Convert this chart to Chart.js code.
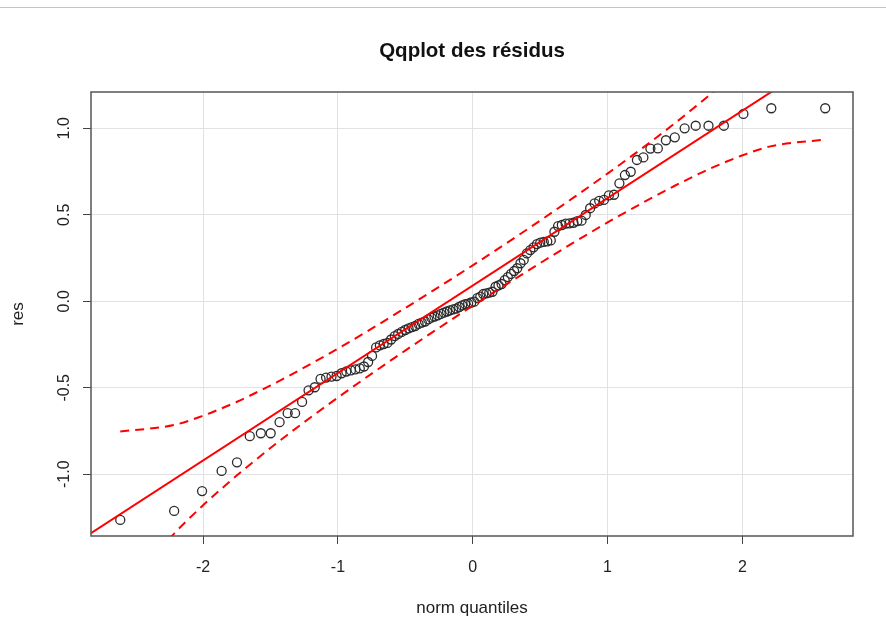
<!DOCTYPE html>
<html>
<head>
<meta charset="utf-8">
<script src="https://cdn.jsdelivr.net/npm/chart.js@4.4.0/dist/chart.umd.min.js"></script>
<style>
  html, body { margin: 0; padding: 0; background: #fff; }
  #wrap { position: relative; width: 886px; height: 639px; }
  .top-rule { position: absolute; left: 0; top: 7px; width: 886px; height: 1px; background: #c4c4c4; }
</style>
</head>
<body>
<div id="wrap">
  <canvas id="qq" width="886" height="639"></canvas>
  <div class="top-rule"></div>
</div>
<script>
// theoretical normal quantiles, one per residual (n = 112)
const normQuantiles = [
  -2.615, -2.215, -2.008, -1.863, -1.749, -1.654, -1.572, -1.499, -1.433, -1.373,
  -1.318, -1.266, -1.218, -1.172, -1.129, -1.088, -1.048, -1.010, -0.973, -0.938,
  -0.904, -0.871, -0.838, -0.807, -0.776, -0.747, -0.717, -0.689, -0.661, -0.633,
  -0.606, -0.579, -0.553, -0.527, -0.501, -0.476, -0.451, -0.427, -0.402, -0.378,
  -0.354, -0.330, -0.307, -0.284, -0.260, -0.237, -0.214, -0.191, -0.169, -0.146,
  -0.123, -0.101, -0.078, -0.056, -0.034, -0.011,
  0.011, 0.034, 0.056, 0.078, 0.101, 0.123,
  0.146, 0.169, 0.191, 0.214, 0.237, 0.260, 0.284, 0.307, 0.330, 0.354,
  0.378, 0.402, 0.427, 0.451, 0.476, 0.501, 0.527, 0.553, 0.579, 0.606,
  0.633, 0.661, 0.689, 0.717, 0.747, 0.776, 0.807, 0.838, 0.871, 0.904,
  0.938, 0.973, 1.010, 1.048, 1.088, 1.129, 1.172, 1.218, 1.266, 1.318,
  1.373, 1.433, 1.499, 1.572, 1.654, 1.749, 1.863, 2.008, 2.215, 2.615
];

// sorted residuals
const residuals = [
  -1.264, -1.212, -1.097, -0.981, -0.931, -0.780, -0.763, -0.763, -0.699, -0.647,
  -0.647, -0.582, -0.515, -0.497, -0.449, -0.441, -0.436, -0.432, -0.416, -0.406,
  -0.400, -0.394, -0.388, -0.377, -0.351, -0.316, -0.267, -0.255, -0.247, -0.241,
  -0.221, -0.201, -0.189, -0.177, -0.166, -0.157, -0.149, -0.143, -0.131, -0.123,
  -0.117, -0.105, -0.095, -0.088, -0.082, -0.073, -0.066, -0.059, -0.053, -0.047,
  -0.042, -0.033, -0.024, -0.017, -0.013, -0.007, -0.002, 0.018, 0.027, 0.042,
  0.046, 0.050, 0.055, 0.084, 0.092, 0.100, 0.122, 0.140, 0.158, 0.175,
  0.191, 0.220, 0.239, 0.277, 0.296, 0.312, 0.331, 0.339, 0.343, 0.346,
  0.352, 0.402, 0.435, 0.441, 0.449, 0.451, 0.454, 0.464, 0.466, 0.499,
  0.538, 0.566, 0.581, 0.586, 0.612, 0.616, 0.682, 0.730, 0.749, 0.817,
  0.832, 0.883, 0.884, 0.931, 0.948, 1.000, 1.015, 1.015, 1.015, 1.083,
  1.116, 1.116
];

// reference line through the quartiles
const fitX = [-2.832, 2.821];
const fitY = [-1.341, 1.517];

// pointwise confidence envelope
const envX = [
  -2.615, -2.215, -2.008, -1.863, -1.749, -1.654, -1.499, -1.373, -1.266, -1.010,
  -0.747, -0.501, -0.237, 0.000, 0.237, 0.501, 0.747, 1.010, 1.266, 1.373,
  1.499, 1.654, 1.749, 1.863, 2.008, 2.215, 2.615
];
const envUpper = [
  -0.753, -0.715, -0.664, -0.619, -0.581, -0.546, -0.486, -0.435, -0.390, -0.278,
  -0.157, -0.039, 0.090, 0.208, 0.329, 0.467, 0.599, 0.744, 0.890, 0.953,
  1.029, 1.127, 1.188, 1.265, 1.367, 1.525, 1.891
];
const envLower = [
  -1.709, -1.343, -1.185, -1.083, -1.006, -0.945, -0.847, -0.771, -0.708, -0.562,
  -0.417, -0.285, -0.147, -0.026, 0.092, 0.221, 0.339, 0.460, 0.572, 0.617,
  0.668, 0.728, 0.763, 0.801, 0.846, 0.897, 0.935
];

const xTicks = [-2, -1, 0, 1, 2];
const yTicks = [-1.0, -0.5, 0.0, 0.5, 1.0];
const yTickLabels = ['-1.0', '-0.5', '0.0', '0.5', '1.0'];

const FONT = '"Liberation Sans", Arial, Helvetica, sans-serif';
const zip = (xs, ys) => xs.map((x, i) => ({ x: x, y: ys[i] }));

// box around the plot region + rotated y tick labels (base R style)
const rFrame = {
  id: 'rFrame',
  afterDraw(chart) {
    const { ctx, chartArea: a, scales: { y } } = chart;
    ctx.save();
    ctx.strokeStyle = '#555';
    ctx.lineWidth = 1.5;
    ctx.strokeRect(a.left, a.top, a.right - a.left, a.bottom - a.top);

    ctx.fillStyle = '#222';
    ctx.font = '16px ' + FONT;
    ctx.textAlign = 'center';
    ctx.textBaseline = 'middle';
    yTicks.forEach((v, i) => {
      ctx.save();
      ctx.translate(a.left - 26, y.getPixelForValue(v));
      ctx.rotate(-Math.PI / 2);
      ctx.fillText(yTickLabels[i], 0, 0);
      ctx.restore();
    });
    ctx.restore();
  }
};

const redLine = {
  showLine: true,
  pointRadius: 0,
  pointHoverRadius: 0,
  borderColor: '#ff0000',
  borderWidth: 2,
  fill: false
};

new Chart(document.getElementById('qq'), {
  type: 'scatter',
  data: {
    datasets: [
      Object.assign({ label: 'fit', data: zip(fitX, fitY) }, redLine),
      Object.assign({ label: 'upper', data: zip(envX, envUpper), borderDash: [9, 6], cubicInterpolationMode: 'monotone' }, redLine),
      Object.assign({ label: 'lower', data: zip(envX, envLower), borderDash: [9, 6], cubicInterpolationMode: 'monotone' }, redLine),
      {
        label: 'res',
        data: zip(normQuantiles, residuals),
        pointStyle: 'circle',
        pointRadius: 4.5,
        pointBorderWidth: 1.3,
        pointBorderColor: '#2b2b2b',
        pointBackgroundColor: 'rgba(0,0,0,0)'
      }
    ]
  },
  options: {
    responsive: false,
    animation: false,
    layout: { padding: { left: 0, right: 33, top: 0, bottom: 0 } },
    plugins: {
      legend: { display: false },
      tooltip: { enabled: false },
      title: {
        display: true,
        text: 'Qqplot des résidus',
        fullSize: false,
        color: '#111',
        font: { family: FONT, size: 20.5, weight: 'bold', lineHeight: 1.2 },
        padding: { top: 39, bottom: 28.4 }
      }
    },
    scales: {
      x: {
        type: 'linear',
        position: 'bottom',
        min: -2.832,
        max: 2.821,
        afterBuildTicks: s => { s.ticks = xTicks.map(v => ({ value: v })); },
        afterFit: s => { s.height = 103; },
        ticks: {
          color: '#222',
          font: { family: FONT, size: 16 },
          padding: 14,
          maxRotation: 0,
          callback: v => String(v)
        },
        grid: { color: '#e2e2e2', lineWidth: 1, tickColor: '#444', tickLength: 8, drawTicks: true },
        border: { display: false },
        title: {
          display: true,
          text: 'norm quantiles',
          color: '#222',
          font: { family: FONT, size: 17 },
          padding: { top: 0, bottom: 20 }
        }
      },
      y: {
        type: 'linear',
        position: 'left',
        min: -1.357,
        max: 1.21,
        afterBuildTicks: s => { s.ticks = yTicks.map(v => ({ value: v })); },
        afterFit: s => { s.width = 91; },
        ticks: { display: false },
        grid: { color: '#e2e2e2', lineWidth: 1, tickColor: '#444', tickLength: 8, drawTicks: true },
        border: { display: false },
        title: {
          display: true,
          text: 'res',
          color: '#222',
          font: { family: FONT, size: 17 },
          padding: { top: 8, bottom: 0 }
        }
      }
    }
  },
  plugins: [rFrame]
});
</script>
</body>
</html>
